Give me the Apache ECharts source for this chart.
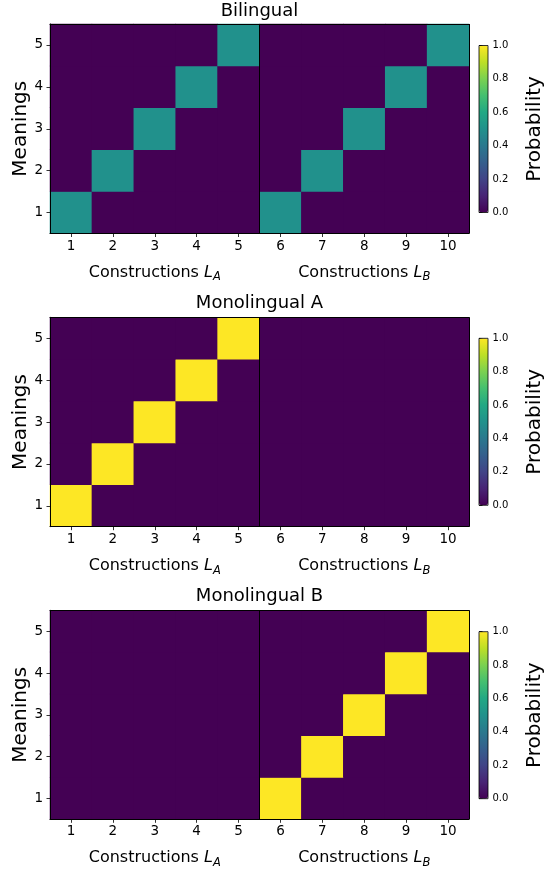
<!DOCTYPE html>
<html>
<head>
<meta charset="utf-8">
<script src="https://cdn.jsdelivr.net/npm/echarts@6/dist/echarts.min.js"></script>
<style>
html,body{margin:0;padding:0;background:#fff;}
#chart{width:547px;height:870px;}
</style>
</head>
<body>
<div id="chart"></div>
<script>
// ---- data ----
const constructions = ['1','2','3','4','5','6','7','8','9','10'];
const meanings = ['1','2','3','4','5'];
const languageGroups = ['Constructions L_A', 'Constructions L_B'];
const panelTitles = ['Bilingual', 'Monolingual A', 'Monolingual B'];
const colorbarTicks = [0.0, 0.2, 0.4, 0.6, 0.8, 1.0];
// rows = meanings 1..5, columns = constructions 1..10
const bilingual = [
  [0.5, 0, 0, 0, 0, 0.5, 0, 0, 0, 0],
  [0, 0.5, 0, 0, 0, 0, 0.5, 0, 0, 0],
  [0, 0, 0.5, 0, 0, 0, 0, 0.5, 0, 0],
  [0, 0, 0, 0.5, 0, 0, 0, 0, 0.5, 0],
  [0, 0, 0, 0, 0.5, 0, 0, 0, 0, 0.5]
];
const monolingualA = [
  [1, 0, 0, 0, 0, 0, 0, 0, 0, 0],
  [0, 1, 0, 0, 0, 0, 0, 0, 0, 0],
  [0, 0, 1, 0, 0, 0, 0, 0, 0, 0],
  [0, 0, 0, 1, 0, 0, 0, 0, 0, 0],
  [0, 0, 0, 0, 1, 0, 0, 0, 0, 0]
];
const monolingualB = [
  [0, 0, 0, 0, 0, 1, 0, 0, 0, 0],
  [0, 0, 0, 0, 0, 0, 1, 0, 0, 0],
  [0, 0, 0, 0, 0, 0, 0, 1, 0, 0],
  [0, 0, 0, 0, 0, 0, 0, 0, 1, 0],
  [0, 0, 0, 0, 0, 0, 0, 0, 0, 1]
];
const viridis = ['#440154','#482475','#414487','#355f8d','#2a788e','#21918c','#22a884','#44bf70','#7ad151','#bddf26','#fde725'];

// ---- layout ----
const FONT = 'DejaVu Sans';
const panels = [bilingual, monolingualA, monolingualB];
const plotTops = [24, 317.3, 610.3];
const plotHeights = [209.5, 209.4, 209];
const cbTops = [45.5, 338.3, 631.7];
const cbHeight = 167;
const titleTops = [2, 294.5, 587.8];
const plotLeft = 50, plotWidth = 419;
const cbLeft = 479, cbWidth = 9;
const LINE = { color: '#000', width: 1 };

function toCells(m) {
  const out = [];
  m.forEach((row, yi) => row.forEach((v, xi) => out.push([xi, yi, v])));
  return out;
}

const option = {
  animation: false,
  backgroundColor: '#fff',
  textStyle: { fontFamily: FONT, color: '#000' },
  title: [], grid: [], xAxis: [], yAxis: [], series: [], visualMap: []
};

panels.forEach((m, i) => {
  option.title.push({
    text: panelTitles[i], left: plotLeft + plotWidth / 2, top: titleTops[i], textAlign: 'center', padding: 0,
    textStyle: { fontFamily: FONT, fontSize: 18, fontWeight: 'normal', color: '#000' }
  });
  // main heatmap grid (background = zero colour hides seams between cells)
  option.grid.push({
    left: plotLeft, top: plotTops[i], width: plotWidth, height: plotHeights[i],
    show: true, backgroundColor: viridis[0], borderWidth: 0, containLabel: false, outerBoundsMode: 'none'
  });
  // colorbar grid
  option.grid.push({
    left: cbLeft, top: cbTops[i], width: cbWidth, height: cbHeight,
    show: true, backgroundColor: 'transparent', borderColor: '#000', borderWidth: 0.8, z: 10,
    containLabel: false, outerBoundsMode: 'none'
  });
  const g = i * 2, gc = i * 2 + 1;
  // x axis: constructions (bottom spine)
  option.xAxis.push({
    type: 'category', gridIndex: g, data: constructions, position: 'bottom', z: 5,
    axisLine: { show: true, onZero: false, lineStyle: LINE },
    axisTick: { show: true, alignWithLabel: true, length: 3.5, lineStyle: { color: '#000', width: 0.8 } },
    axisLabel: { fontSize: 13.5, margin: 5.5, color: '#000', fontFamily: FONT, interval: 0 },
    splitLine: { show: false }
  });
  // x axis: language groups (labels + left/middle/right vertical lines)
  option.xAxis.push({
    type: 'category', gridIndex: g, data: languageGroups, position: 'bottom', z: 5,
    axisLine: { show: false }, axisTick: { show: false },
    axisLabel: {
      margin: 29, interval: 0, color: '#000',
      formatter: function (v) {
        const parts = v.split(' ');
        const sub = parts[1].split('_');
        return '{r|' + parts[0] + ' }{i|' + sub[0] + '}{s|' + sub[1] + '}';
      },
      rich: {
        r: { fontFamily: FONT, fontSize: 16, color: '#000', lineHeight: 20 },
        i: { fontFamily: FONT, fontSize: 16, fontStyle: 'italic', color: '#000', lineHeight: 20 },
        s: { fontFamily: FONT, fontSize: 11.5, fontStyle: 'italic', color: '#000', lineHeight: 12, padding: [10, 0, 0, 0] }
      }
    },
    splitLine: { show: true, interval: 0, lineStyle: LINE }
  });
  // x axis: top spine only
  option.xAxis.push({
    type: 'category', gridIndex: g, data: constructions, position: 'top', z: 5,
    axisLine: { show: true, onZero: false, lineStyle: LINE },
    axisTick: { show: false }, axisLabel: { show: false }, splitLine: { show: false }
  });
  // colorbar x axis (hidden)
  option.xAxis.push({ type: 'value', gridIndex: gc, show: false, min: 0, max: 1 });
  // y axis: meanings
  option.yAxis.push({
    type: 'category', gridIndex: g, data: meanings, z: 5,
    name: 'Meanings', nameLocation: 'middle', nameGap: 19, nameRotate: 90, nameMoveOverlap: false,
    nameTextStyle: { fontFamily: FONT, fontSize: 20, color: '#000' },
    axisLine: { show: true, onZero: false, lineStyle: LINE },
    axisTick: { show: true, alignWithLabel: true, length: 3.5, lineStyle: { color: '#000', width: 0.8 } },
    axisLabel: { fontSize: 13.5, margin: 7, color: '#000', fontFamily: FONT },
    splitLine: { show: false }
  });
  // colorbar y axis
  option.yAxis.push({
    type: 'value', gridIndex: gc, min: 0, max: 1, interval: 0.2, position: 'right',
    name: 'Probability', nameLocation: 'middle', nameGap: 37, nameRotate: 90, nameMoveOverlap: false,
    nameTextStyle: { fontFamily: FONT, fontSize: 20, color: '#000' },
    axisLine: { show: false },
    axisTick: { show: true, length: 3.5, lineStyle: { color: '#000', width: 0.8 } },
    axisLabel: {
      fontSize: 10, margin: 4.5, color: '#000', fontFamily: FONT,
      formatter: function (v) {
        const t = colorbarTicks.find(c => Math.abs(c - v) < 1e-9);
        return (t === undefined ? v : t).toFixed(1);
      }
    },
    splitLine: { show: false }
  });
  // heatmap series
  option.series.push({
    type: 'heatmap', xAxisIndex: i * 4, yAxisIndex: i * 2, data: toCells(m),
    itemStyle: { borderWidth: 0 }, emphasis: { disabled: true }, z: 2
  });
  option.visualMap.push({
    type: 'continuous', seriesIndex: i, min: 0, max: 1,
    left: cbLeft, top: cbTops[i], itemWidth: cbWidth, itemHeight: cbHeight,
    calculable: false, realtime: false, padding: 0, hoverLink: false,
    inRange: { color: viridis }, text: null, orient: 'vertical'
  });
});

const chart = echarts.init(document.getElementById('chart'), null, { renderer: 'canvas' });
chart.setOption(option);
</script>
</body>
</html>
